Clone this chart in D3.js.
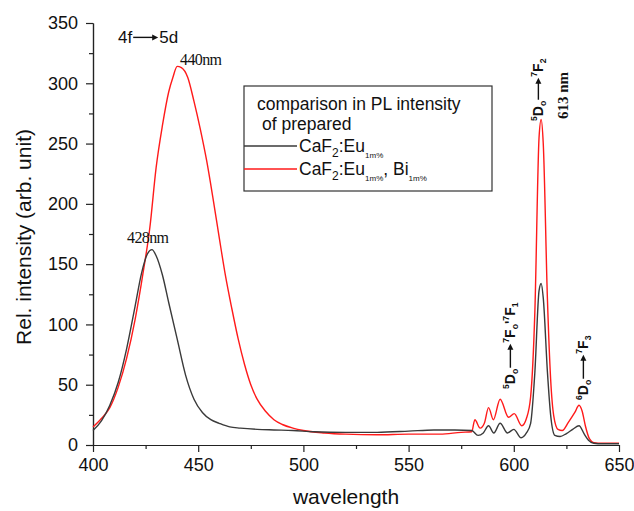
<!DOCTYPE html>
<html>
<head>
<meta charset="utf-8">
<script src="https://cdn.jsdelivr.net/npm/d3@7"></script>
<style>
  body { margin: 0; background: #fff; }
  svg { display: block; font-family: "Liberation Sans", Arial, sans-serif; }
  .axis text { font-size: 18px; fill: #111; }
  .axis path, .axis line { stroke: #222; stroke-width: 1.2; }
</style>
</head>
<body>
<div id="chart"></div>
<script>
// CaF2:Eu (black)
const wlEu = [400, 404, 408, 412, 416, 420, 423, 426, 428, 430, 433, 436, 440, 444, 448, 452, 456, 460, 465, 470,
  478, 486, 495, 505, 520, 535, 550, 562, 572, 580, 583, 585.5, 588, 590.5, 593.5, 597, 600, 603.5, 606, 608,
  610, 612, 613, 614, 616, 617.5, 619.5, 622, 625, 628, 631, 633.5, 635.5, 638, 642, 650]
const intEu = [12, 20, 33, 52, 80, 115, 142, 159, 162, 157, 141, 118, 88, 58, 38, 27, 21, 18, 15, 14,
  13, 12.5, 12, 11, 10.5, 10.5, 11.5, 12.5, 12.5, 12, 8, 10, 16, 10, 18, 10, 13, 6, 10, 18,
  60, 128, 134, 122, 60, 25, 8, 7, 9.5, 13, 16, 9, 4, 1.5, 1, 1]

// CaF2:Eu,Bi (red)
const wlEuBi = [400, 404, 408, 412, 416, 420, 424, 427, 430, 433, 436, 438, 440, 442, 445, 448, 451, 454, 457, 460,
  463, 466, 469, 472, 475, 478, 482, 486, 490, 495, 500, 510, 520, 535, 550, 565, 575, 580, 581.5, 584,
  586, 588, 590.3, 593.5, 597.5, 600.2, 603.8, 606, 608, 610, 612, 613, 614, 616, 617.5, 619,
  621, 623, 626, 629, 631, 632.5, 634, 636, 638, 642, 650]
const intEuBi = [15, 22, 31, 48, 72, 104, 145, 180, 230, 265, 293, 305, 314, 313, 305, 285, 262, 236, 205, 172,
  140, 113, 88, 67, 50, 38, 28, 21, 17, 14, 12, 10, 9, 8.5, 9, 9, 10.5, 11, 21, 14,
  18, 31, 21, 38, 23, 26, 16, 22, 40, 110, 255, 270, 250, 120, 55, 24,
  13, 12, 19, 27, 33, 28, 16, 5, 2, 1.5, 1.5]

const xTicks = [400, 450, 500, 550, 600, 650]
const xMinor = [425, 475, 525, 575, 625]
const yTicks = [0, 50, 100, 150, 200, 250, 300, 350]
const yMinor = [25, 75, 125, 175, 225, 275, 325]

const width = 634, height = 511
const margin = {top: 23, right: 15, bottom: 66, left: 93}

const svg = d3.select("#chart").append("svg")
  .attr("width", width)
  .attr("height", height)

const x = d3.scaleLinear().domain([400, 650]).range([margin.left, width - margin.right])
const y = d3.scaleLinear().domain([0, 350]).range([height - margin.bottom, margin.top])

// axes: minor ticks first, then major ticks with labels
svg.append("g").attr("class", "axis")
  .attr("transform", `translate(0,${height - margin.bottom})`)
  .call(d3.axisBottom(x).tickValues(xMinor).tickSize(4).tickSizeOuter(0).tickFormat(""))
svg.append("g").attr("class", "axis")
  .attr("transform", `translate(0,${height - margin.bottom})`)
  .call(d3.axisBottom(x).tickValues(xTicks).tickSize(7).tickSizeOuter(0).tickPadding(6))

svg.append("g").attr("class", "axis")
  .attr("transform", `translate(${margin.left},0)`)
  .call(d3.axisLeft(y).tickValues(yMinor).tickSize(4).tickSizeOuter(0).tickFormat(""))
svg.append("g").attr("class", "axis")
  .attr("transform", `translate(${margin.left},0)`)
  .call(d3.axisLeft(y).tickValues(yTicks).tickSize(7).tickSizeOuter(0).tickPadding(8))

// axis titles
svg.append("text")
  .attr("x", 346).attr("y", 504)
  .attr("text-anchor", "middle")
  .attr("font-size", 21)
  .attr("fill", "#111")
  .text("wavelength")

svg.append("text")
  .attr("transform", "translate(31,237) rotate(-90)")
  .attr("text-anchor", "middle")
  .attr("font-size", 21)
  .attr("fill", "#111")
  .text("Rel. intensity (arb. unit)")

// spectra
const line = (wl, vals) => d3.line()
  .x((d, i) => x(wl[i]))
  .y(d => y(d))
  .curve(d3.curveMonotoneX)(vals)

svg.append("path")
  .attr("d", line(wlEuBi, intEuBi))
  .attr("fill", "none")
  .attr("stroke", "#ff1a1a")
  .attr("stroke-width", 1.4)

svg.append("path")
  .attr("d", line(wlEu, intEu))
  .attr("fill", "none")
  .attr("stroke", "#3a3a3a")
  .attr("stroke-width", 1.4)

// text made of pieces (sup/sub, arrows), optionally rotated
function pieces(x0, y0, rot, parts, size, family, weight) {
  const g = svg.append("g")
    .attr("transform", `translate(${x0},${y0}) rotate(${rot})`)
    .attr("font-family", family)
    .attr("font-weight", weight)
    .attr("fill", "#111")
  let cx = 0
  parts.forEach(p => {
    if (p.arrow) {
      const ay = -size * 0.33
      g.append("line")
        .attr("x1", cx + 1).attr("x2", cx + p.arrow - 6)
        .attr("y1", ay).attr("y2", ay)
        .attr("stroke", "#111").attr("stroke-width", 1.4)
      g.append("path")
        .attr("d", `M${cx + p.arrow - 1},${ay} l-6,-3 v6 z`)
        .attr("fill", "#111")
      cx += p.arrow
      return
    }
    const fs = p.s ? size * 0.62 : size
    const dy = p.s === "sup" ? -size * 0.42 : p.s === "sub" ? size * 0.22 : 0
    const t = g.append("text")
      .attr("x", cx).attr("y", dy)
      .attr("font-size", fs)
      .text(p.t)
    cx += t.node().getComputedTextLength()
  })
}

const sans = '"Liberation Sans", Arial, sans-serif'
const serif = '"Liberation Serif", "Times New Roman", serif'

pieces(118, 43, 0, [{t: "4f"}, {arrow: 27}, {t: "5d"}], 17, sans, "normal")

svg.append("text").attr("x", 180).attr("y", 65)
  .attr("font-family", serif).attr("font-size", 16).attr("fill", "#111")
  .attr("letter-spacing", -0.6)
  .text("440nm")
svg.append("text").attr("x", 127).attr("y", 243)
  .attr("font-family", serif).attr("font-size", 16).attr("fill", "#111")
  .attr("letter-spacing", -0.6)
  .text("428nm")

pieces(543, 121, -90, [{t: "5", s: "sup"}, {t: "D"}, {t: "o", s: "sub"}, {arrow: 24},
  {t: "7", s: "sup"}, {t: "F"}, {t: "2", s: "sub"}], 14, sans, "bold")
svg.append("text")
  .attr("transform", "translate(568,119) rotate(-90)")
  .attr("font-family", serif).attr("font-size", 15).attr("font-weight", "bold").attr("fill", "#111")
  .text("613 nm")

pieces(515, 389, -90, [{t: "5", s: "sup"}, {t: "D"}, {t: "o", s: "sub"}, {arrow: 26},
  {t: "7", s: "sup"}, {t: "F"}, {t: "o", s: "sub"}, {t: "' "}, {t: "7", s: "sup"}, {t: "F"}, {t: "1", s: "sub"}], 14, sans, "bold")

pieces(588, 400, -90, [{t: "6", s: "sup"}, {t: "D"}, {t: "o", s: "sub"}, {arrow: 26},
  {t: "7", s: "sup"}, {t: "F"}, {t: "3", s: "sub"}], 14, sans, "bold")

// legend
const legend = svg.append("g")
legend.append("rect")
  .attr("x", 244).attr("y", 86).attr("width", 248).attr("height", 105)
  .attr("fill", "#fff").attr("stroke", "#333").attr("stroke-width", 1.2)
legend.append("text").attr("x", 257).attr("y", 110).attr("font-size", 17.5).attr("fill", "#111")
  .text("comparison in PL intensity")
legend.append("text").attr("x", 262).attr("y", 130).attr("font-size", 17.5).attr("fill", "#111")
  .text("of prepared")

const legendItems = [
  {color: "#3a3a3a", y: 152, label: [["CaF", 0], ["2", 1], [":Eu", 0], ["1m%", 2]]},
  {color: "#ff1a1a", y: 175, label: [["CaF", 0], ["2", 1], [":Eu", 0], ["1m%", 2], [", Bi", 0], ["1m%", 2]]}
]
legendItems.forEach(item => {
  legend.append("line")
    .attr("x1", 244).attr("x2", 297)
    .attr("y1", item.y - 6).attr("y2", item.y - 6)
    .attr("stroke", item.color).attr("stroke-width", 1.5)
  const t = legend.append("text").attr("x", 299).attr("y", item.y).attr("font-size", 17.5).attr("fill", "#111")
  let shift = 0
  item.label.forEach(([s, k]) => {
    const target = k === 0 ? 0 : k === 1 ? 5 : 6
    t.append("tspan")
      .attr("dy", target - shift)
      .attr("font-size", k === 0 ? 17.5 : k === 1 ? 12 : 8)
      .text(s)
    shift = target
  })
})
</script>
</body>
</html>
